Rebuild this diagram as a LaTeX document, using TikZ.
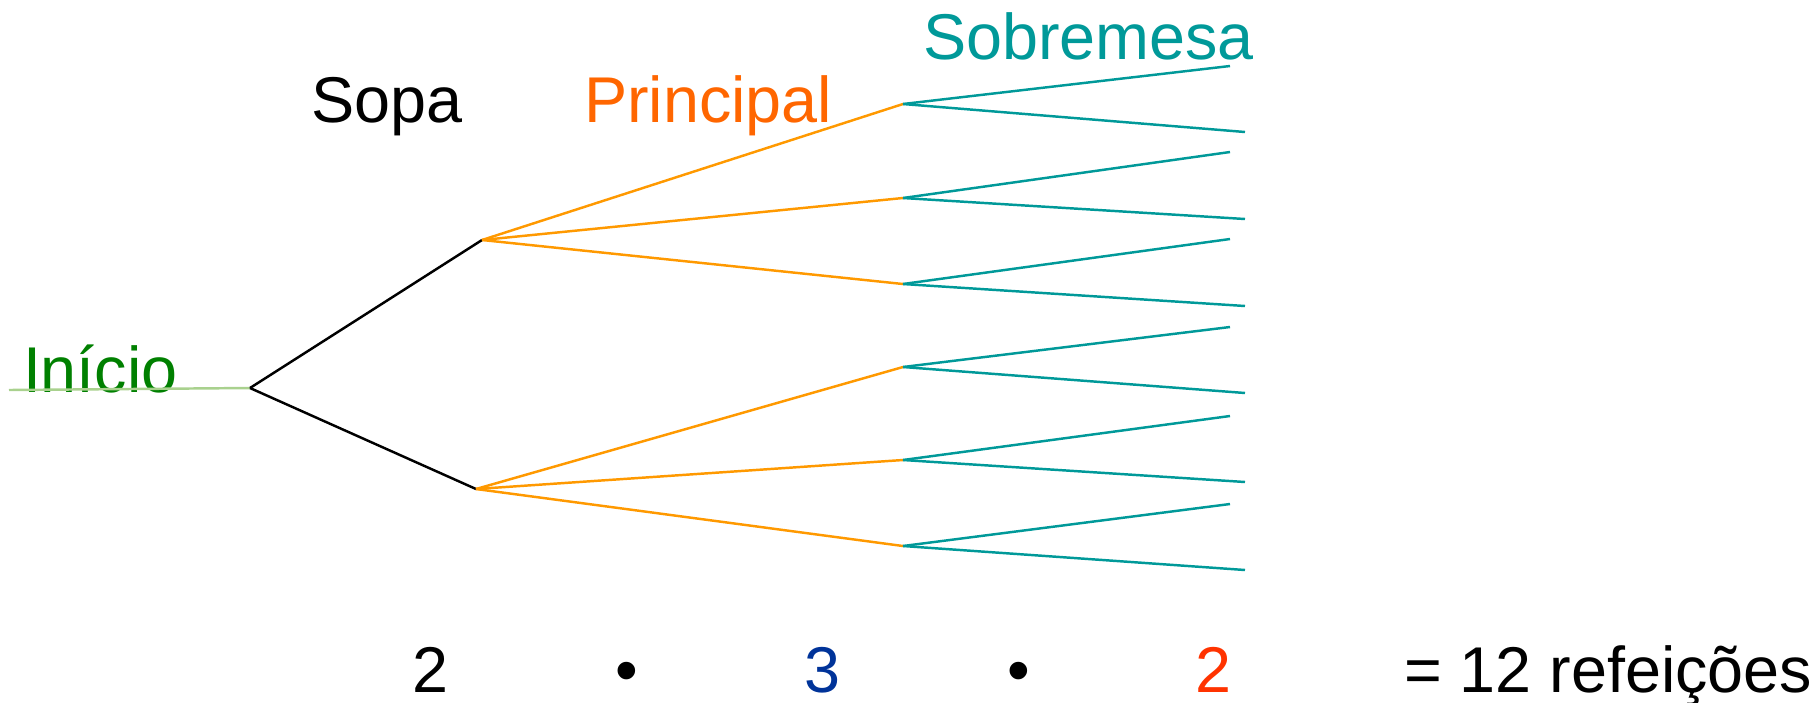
\documentclass[tikz,border=0pt]{standalone}
\usepackage{fontspec}
\setmainfont{Liberation Sans}
\usepackage{xcolor}
\usepackage{tikz}
\definecolor{startgreen}{HTML}{008000}
\definecolor{startline}{HTML}{A9D18E}
\definecolor{mainorange}{HTML}{FF6600}
\definecolor{branchorange}{HTML}{FF9900}
\definecolor{dessertteal}{HTML}{009999}
\definecolor{countblue}{HTML}{003399}
\definecolor{countred}{HTML}{FF3300}

\begin{document}
\begin{tikzpicture}[x=0.01cm,y=-0.01cm, every node/.style={font=\fontsize{18.4}{22}\selectfont,inner sep=0pt,outer sep=0pt}, lbl/.style={anchor=base west}, cnt/.style={anchor=base}, sopaline/.style={draw=black,line width=0.7pt}, mainline/.style={draw=branchorange,line width=0.7pt}, dessline/.style={draw=dessertteal,line width=0.7pt}]
\useasboundingbox (0,0) rectangle (1820,702);
% stages
\node[lbl,text=startgreen] (inicio) at (23,392) {Início};
\node[lbl] (sopa) at (311,122) {Sopa};
\node[lbl,text=mainorange] (principal) at (584,122) {Principal};
\node[lbl,text=dessertteal] (sobremesa) at (923,59) {Sobremesa};
% tree points
\coordinate (o) at (9,390);
\coordinate (root) at (250,388);
\coordinate (s1) at (482,240);\coordinate (s2) at (476,489);
\coordinate (p1) at (903,104);\coordinate (p2) at (903,198);\coordinate (p3) at (903,284);
\coordinate (p4) at (903,367);\coordinate (p5) at (903,460);\coordinate (p6) at (903,546);
\coordinate (d1) at (1230,66);\coordinate (d2) at (1245,132);
\coordinate (d3) at (1230,152);\coordinate (d4) at (1245,219);
\coordinate (d5) at (1230,239);\coordinate (d6) at (1245,306);
\coordinate (d7) at (1230,327);\coordinate (d8) at (1245,393);
\coordinate (d9) at (1230,416);\coordinate (d10) at (1245,482);
\coordinate (d11) at (1230,504);\coordinate (d12) at (1245,570);
\draw[startline,line width=0.7pt] (o)--(root);
\draw[sopaline] (root)--(s1);\draw[sopaline] (root)--(s2);
\draw[mainline] (s1)--(p1);\draw[mainline] (s1)--(p2);\draw[mainline] (s1)--(p3);
\draw[mainline] (s2)--(p4);\draw[mainline] (s2)--(p5);\draw[mainline] (s2)--(p6);
\draw[dessline] (p1)--(d1);\draw[dessline] (p1)--(d2);
\draw[dessline] (p2)--(d3);\draw[dessline] (p2)--(d4);
\draw[dessline] (p3)--(d5);\draw[dessline] (p3)--(d6);
\draw[dessline] (p4)--(d7);\draw[dessline] (p4)--(d8);
\draw[dessline] (p5)--(d9);\draw[dessline] (p5)--(d10);
\draw[dessline] (p6)--(d11);\draw[dessline] (p6)--(d12);
% count
\node[cnt] (n1) at (430,692) {2};
\node[cnt] (m1) at (627,692) {•};
\node[cnt,text=countblue] (n2) at (822,692) {3};
\node[cnt] (m2) at (1019,692) {•};
\node[cnt,text=countred] (n3) at (1213,692) {2};
\node[lbl] (total) at (1404,692) {= 12 refeições};
\end{tikzpicture}
\end{document}
